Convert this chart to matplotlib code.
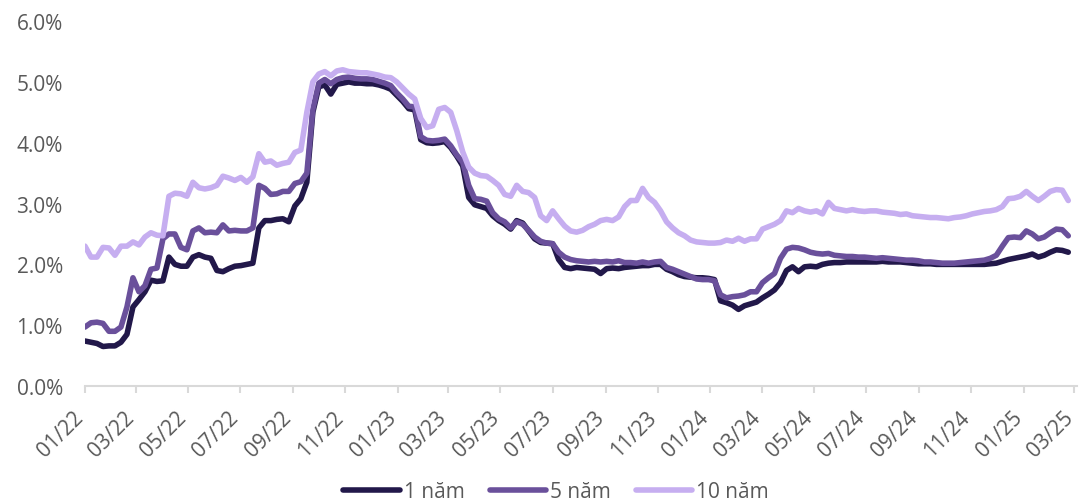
import matplotlib
matplotlib.use("Agg")
import matplotlib.pyplot as plt
import matplotlib.dates as mdates
import matplotlib.transforms as mtransforms
from matplotlib.ticker import FuncFormatter
import pandas as pd

# weekly observations, 01/2022 -> 02/2025 (percent)
dates = pd.date_range("2022-01-01", periods=165, freq="7D")

y1 = [
    0.74, 0.72, 0.70, 0.65, 0.66, 0.66, 0.72, 0.85, 1.30, 1.42,
    1.55, 1.74, 1.72, 1.73, 2.12, 2.00, 1.97, 1.97, 2.12, 2.16,
    2.12, 2.10, 1.90, 1.88, 1.93, 1.97, 1.98, 2.00, 2.02, 2.60,
    2.72, 2.72, 2.74, 2.75, 2.70, 2.96, 3.08, 3.35, 4.50, 4.92,
    4.95, 4.80, 4.96, 4.98, 5.00, 4.98, 4.98, 4.97, 4.97, 4.95,
    4.92, 4.88, 4.78, 4.68, 4.56, 4.54, 4.05, 4.00, 3.99, 4.00,
    4.02, 3.92, 3.78, 3.62, 3.10, 2.98, 2.95, 2.92, 2.80, 2.72,
    2.66, 2.58, 2.72, 2.68, 2.55, 2.42, 2.36, 2.35, 2.34, 2.08,
    1.95, 1.93, 1.95, 1.94, 1.93, 1.92, 1.85, 1.93, 1.94, 1.93,
    1.95, 1.96, 1.97, 1.98, 1.98, 2.00, 2.00, 1.92, 1.88, 1.83,
    1.80, 1.79, 1.78, 1.78, 1.77, 1.75, 1.40, 1.37, 1.33, 1.26,
    1.32, 1.35, 1.38, 1.45, 1.51, 1.58, 1.70, 1.90, 1.96, 1.88,
    1.96, 1.97, 1.96, 2.00, 2.02, 2.03, 2.03, 2.04, 2.04, 2.04,
    2.04, 2.04, 2.04, 2.05, 2.04, 2.04, 2.04, 2.03, 2.02, 2.01,
    2.01, 2.01, 2.00, 2.00, 2.00, 2.00, 2.00, 2.00, 2.00, 2.00,
    2.00, 2.01, 2.02, 2.05, 2.08, 2.10, 2.12, 2.14, 2.17, 2.12,
    2.15, 2.20, 2.24, 2.23, 2.20,
]

y5 = [
    0.97, 1.04, 1.05, 1.03, 0.90, 0.90, 0.97, 1.30, 1.78, 1.55,
    1.65, 1.92, 1.94, 2.42, 2.50, 2.50, 2.28, 2.24, 2.55, 2.60,
    2.52, 2.53, 2.52, 2.65, 2.55, 2.56, 2.55, 2.55, 2.60, 3.30,
    3.25, 3.15, 3.16, 3.20, 3.20, 3.33, 3.36, 3.50, 4.55, 4.98,
    5.04, 4.97, 5.04, 5.07, 5.08, 5.06, 5.05, 5.05, 5.04, 5.01,
    4.98, 4.94, 4.82, 4.72, 4.60, 4.59, 4.10, 4.04, 4.03, 4.04,
    4.06, 3.95, 3.80, 3.68, 3.30, 3.08, 3.07, 3.04, 2.85, 2.75,
    2.70, 2.60, 2.70, 2.66, 2.56, 2.45, 2.38, 2.35, 2.34, 2.20,
    2.12, 2.08, 2.06, 2.05, 2.04, 2.05, 2.04, 2.05, 2.04, 2.06,
    2.03, 2.03, 2.02, 2.04, 2.02, 2.04, 2.05, 1.95, 1.92, 1.88,
    1.84, 1.80, 1.76, 1.75, 1.75, 1.73, 1.50, 1.45, 1.47, 1.48,
    1.50, 1.55, 1.55, 1.70, 1.78, 1.85, 2.10, 2.25, 2.28, 2.27,
    2.24, 2.20, 2.18, 2.17, 2.18, 2.15, 2.14, 2.13, 2.13, 2.12,
    2.12, 2.11, 2.10, 2.11, 2.10, 2.09, 2.08, 2.07, 2.07, 2.06,
    2.04, 2.04, 2.03, 2.02, 2.02, 2.02, 2.03, 2.04, 2.05, 2.06,
    2.07, 2.10, 2.15, 2.30, 2.44, 2.45, 2.44, 2.55, 2.50, 2.42,
    2.45, 2.52, 2.58, 2.57, 2.47,
]

y10 = [
    2.30, 2.12, 2.12, 2.28, 2.27, 2.15, 2.30, 2.30, 2.37, 2.32,
    2.45, 2.52, 2.48, 2.47, 3.12, 3.17, 3.16, 3.12, 3.35, 3.26,
    3.24, 3.26, 3.30, 3.45, 3.42, 3.38, 3.43, 3.35, 3.44, 3.82,
    3.68, 3.70, 3.63, 3.66, 3.68, 3.84, 3.88, 4.50, 5.00, 5.13,
    5.17, 5.10, 5.18, 5.20, 5.17, 5.16, 5.15, 5.15, 5.13, 5.11,
    5.08, 5.07, 5.00, 4.90, 4.80, 4.72, 4.40, 4.25, 4.28, 4.55,
    4.58, 4.50, 4.20, 3.85, 3.60, 3.50, 3.46, 3.45, 3.38, 3.30,
    3.15, 3.12, 3.30, 3.20, 3.18, 3.10, 2.80, 2.72, 2.88, 2.75,
    2.63, 2.55, 2.53, 2.56, 2.62, 2.66, 2.72, 2.74, 2.72, 2.78,
    2.95, 3.05, 3.05, 3.25, 3.10, 3.02, 2.88, 2.70, 2.60, 2.52,
    2.47, 2.40, 2.37, 2.36, 2.35, 2.35, 2.36, 2.40, 2.38, 2.43,
    2.38, 2.42, 2.42, 2.58, 2.62, 2.66, 2.72, 2.88, 2.85, 2.92,
    2.88, 2.86, 2.88, 2.83, 3.02, 2.92, 2.90, 2.88, 2.90, 2.88,
    2.87, 2.88, 2.88, 2.86, 2.85, 2.84, 2.82, 2.83, 2.80, 2.79,
    2.78, 2.77, 2.77, 2.76, 2.75, 2.77, 2.78, 2.80, 2.83, 2.85,
    2.87, 2.88, 2.90, 2.95, 3.08, 3.09, 3.12, 3.20, 3.12, 3.05,
    3.12, 3.20, 3.23, 3.22, 3.05,
]

labels = ["1 năm", "5 năm", "10 năm"]
colors = ["#22184a", "#6a509b", "#c6aef0"]

plt.rcParams["font.family"] = ["Open Sans", "DejaVu Sans"]
text_color = "#595959"

fig = plt.figure(figsize=(10.84, 5.02), dpi=100)
ax = fig.add_axes([0.0784, 0.229, 0.915, 0.727])

for vals, lab, col in zip([y1, y5, y10], labels, colors):
    ax.plot(dates, vals, color=col, lw=4, label=lab,
            solid_joinstyle="round", solid_capstyle="round")

ax.set_ylim(0, 6)
ax.set_yticks([0, 1, 2, 3, 4, 5, 6])
ax.yaxis.set_major_formatter(FuncFormatter(lambda v, p: f"{v:.1f}%"))
ax.set_xlim(pd.Timestamp("2022-01-01"), pd.Timestamp("2025-03-04"))
ax.xaxis.set_major_locator(mdates.MonthLocator(bymonth=[1, 3, 5, 7, 9, 11]))
ax.xaxis.set_major_formatter(mdates.DateFormatter("%m/%y"))

for s in ["top", "right", "left"]:
    ax.spines[s].set_visible(False)
ax.spines["bottom"].set_color("#d9d9d9")
ax.spines["bottom"].set_linewidth(1.5)

ax.tick_params(axis="y", length=0, pad=16, labelsize=15, labelcolor=text_color)
ax.tick_params(axis="x", length=5, width=1.5, color="#d9d9d9", pad=6,
               labelsize=15, labelcolor=text_color)
# nudge rotated date labels so their right end sits under the tick
shift = mtransforms.ScaledTranslation(-0.12, -0.05, fig.dpi_scale_trans)
for t in ax.get_xticklabels():
    t.set_rotation(45)
    t.set_ha("right")
    t.set_rotation_mode("anchor")
    t.set_transform(t.get_transform() + shift)

fig.legend(loc="center", bbox_to_anchor=(0.513, 0.018), ncol=3, frameon=False,
           fontsize=15, labelcolor=text_color, handlelength=2.7,
           handletextpad=0.2, columnspacing=1.2)

fig.savefig("out.png", dpi=100)
plt.close(fig)
